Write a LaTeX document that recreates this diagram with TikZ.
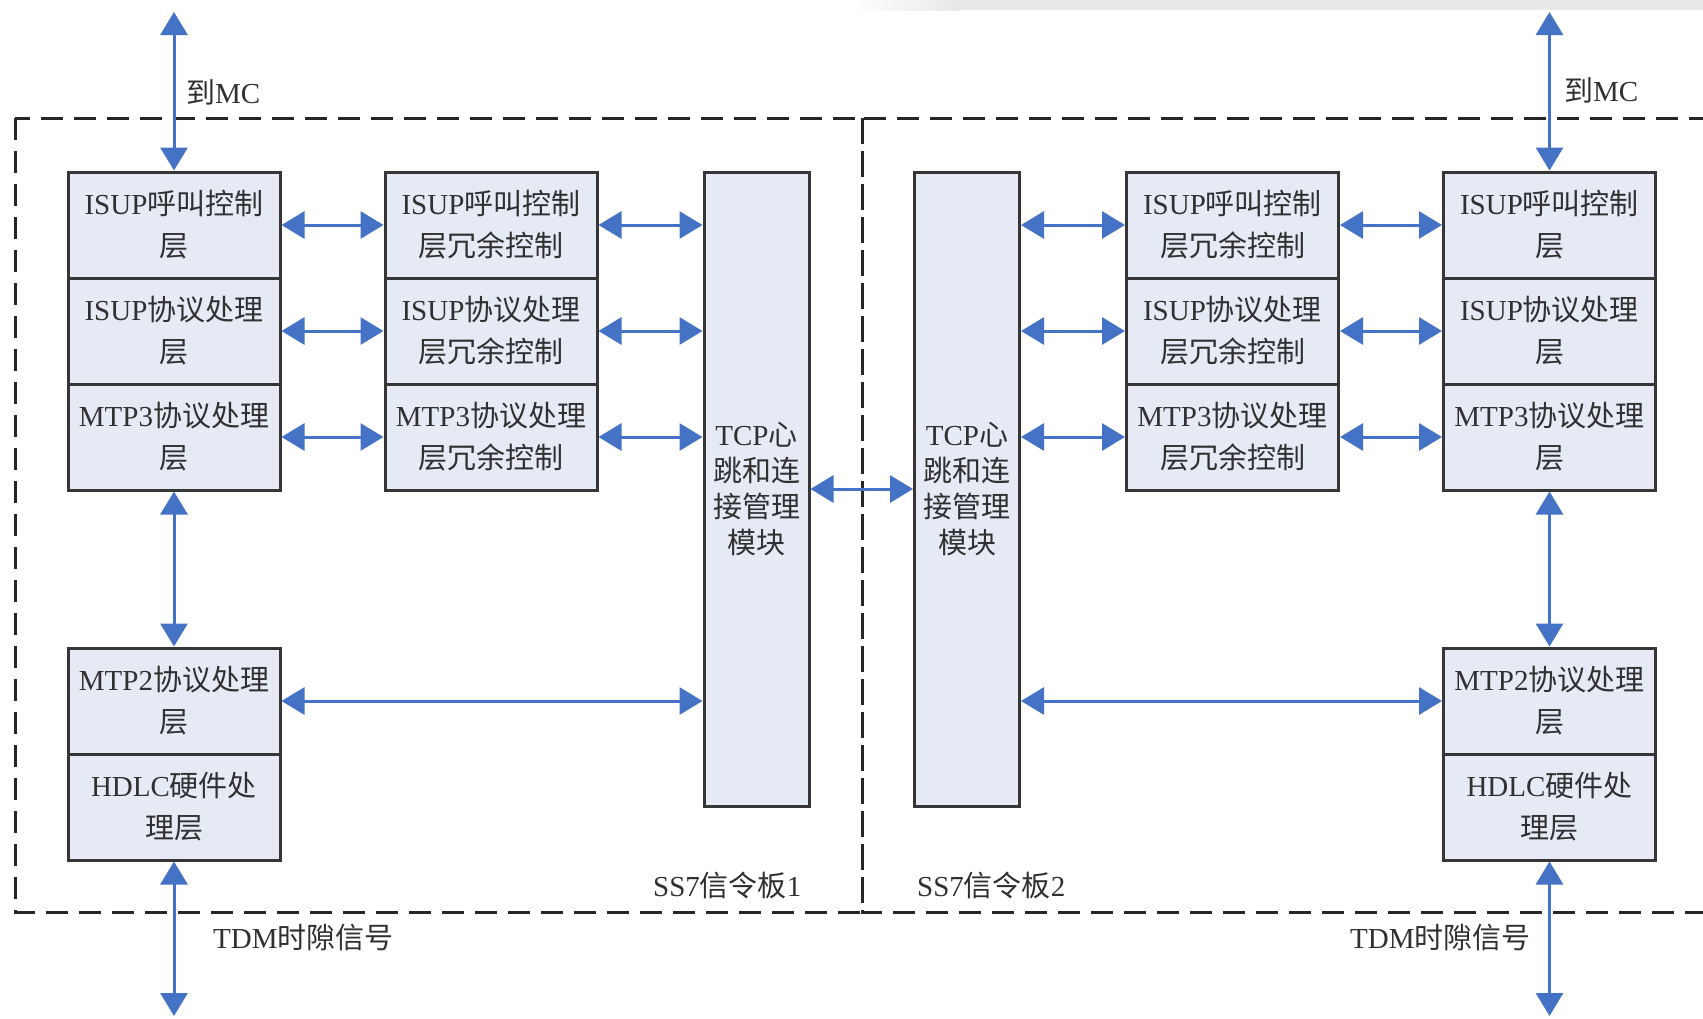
\documentclass[tikz,border=0pt]{standalone}
\usepackage{fontspec}
\setmainfont{Liberation Serif}
\newfontfamily\cjk{Noto Sans CJK SC}
\newcommand\zh[1]{{\cjk #1}}
\usetikzlibrary{arrows.meta,positioning}
\definecolor{boxfill}{HTML}{E6EAF4}
\definecolor{boxline}{HTML}{363636}
\definecolor{arrblue}{HTML}{4472C4}
\definecolor{txt}{HTML}{303030}
\tikzset{
  layerbox/.style={draw=boxline, fill=boxfill, line width=3pt, align=center,
    inner sep=0pt, text=txt, font=\fontsize{29}{42}\selectfont},
  widebox/.style={layerbox, minimum width=212pt, minimum height=106pt},
  tcpbox/.style={layerbox, minimum width=105pt, minimum height=634pt,
    font=\fontsize{29}{36}\selectfont},
  biarrow/.style={draw=arrblue, line width=3pt,
    {Triangle[length=23pt,width=27pt]}-{Triangle[length=23pt,width=27pt]}},
  boardline/.style={draw=black!85, line width=3pt, dash pattern=on 22pt off 11pt},
  lbl/.style={text=txt, font=\fontsize{29}{36}\selectfont, inner sep=0pt}
}
\begin{document}
\begin{tikzpicture}[x=1pt,y=-1pt]
\useasboundingbox (0,0) rectangle (1703,1018);
\fill[white] (0,0) rectangle (1703,1018);
% top grey band
\shade[left color=white, right color=black!9] (850,0) rectangle (960,10);
\fill[black!9] (960,0) rectangle (1703,10);

% board outlines
\begin{scope}
\clip (0,0) rectangle (1703,1018);
\draw[boardline] (15,118) rectangle (862,912);
\draw[boardline] (862,118) rectangle (1730,912);
\end{scope}

% ---------- board 1 ----------
\node[widebox] (L1) at (174,225) {ISUP\zh{呼叫控制}\\\zh{层}};
\node[widebox] (L2) at (174,331) {ISUP\zh{协议处理}\\\zh{层}};
\node[widebox] (L3) at (174,437) {MTP3\zh{协议处理}\\\zh{层}};
\node[widebox] (M1) at (491,225) {ISUP\zh{呼叫控制}\\\zh{层冗余控制}};
\node[widebox] (M2) at (491,331) {ISUP\zh{协议处理}\\\zh{层冗余控制}};
\node[widebox] (M3) at (491,437) {MTP3\zh{协议处理}\\\zh{层冗余控制}};
\node[widebox] (P1) at (174,701) {MTP2\zh{协议处理}\\\zh{层}};
\node[widebox] (H1) at (174,807) {HDLC\zh{硬件处}\\\zh{理层}};
\node[tcpbox] (T1) at (756.5,489) {TCP\zh{心}\\\zh{跳和连}\\\zh{接管理}\\\zh{模块}};

% ---------- board 2 ----------
\node[tcpbox] (T2) at (967,489) {TCP\zh{心}\\\zh{跳和连}\\\zh{接管理}\\\zh{模块}};
\node[widebox] (N1) at (1232.5,225) {ISUP\zh{呼叫控制}\\\zh{层冗余控制}};
\node[widebox] (N2) at (1232.5,331) {ISUP\zh{协议处理}\\\zh{层冗余控制}};
\node[widebox] (N3) at (1232.5,437) {MTP3\zh{协议处理}\\\zh{层冗余控制}};
\node[widebox] (R1) at (1549.5,225) {ISUP\zh{呼叫控制}\\\zh{层}};
\node[widebox] (R2) at (1549.5,331) {ISUP\zh{协议处理}\\\zh{层}};
\node[widebox] (R3) at (1549.5,437) {MTP3\zh{协议处理}\\\zh{层}};
\node[widebox] (Q1) at (1549.5,701) {MTP2\zh{协议处理}\\\zh{层}};
\node[widebox] (G1) at (1549.5,807) {HDLC\zh{硬件处}\\\zh{理层}};

% external end points
\coordinate (mcL) at (174,12);
\coordinate (mcR) at (1549.5,12);
\coordinate (tdmL) at (174,1016);
\coordinate (tdmR) at (1549.5,1016);

% ---------- arrows board 1 ----------
\draw[biarrow] (mcL) -- (L1.north);
\draw[biarrow] (L1.east) -- (M1.west);
\draw[biarrow] (L2.east) -- (M2.west);
\draw[biarrow] (L3.east) -- (M3.west);
\draw[biarrow] (M1.east) -- (M1.east -| T1.west);
\draw[biarrow] (M2.east) -- (M2.east -| T1.west);
\draw[biarrow] (M3.east) -- (M3.east -| T1.west);
\draw[biarrow] (L3.south) -- (P1.north);
\draw[biarrow] (P1.east) -- (P1.east -| T1.west);
\draw[biarrow] (H1.south) -- (tdmL);

% between boards
\draw[biarrow] (T1.east) -- (T2.west);

% ---------- arrows board 2 ----------
\draw[biarrow] (mcR) -- (R1.north);
\draw[biarrow] (N1.east) -- (R1.west);
\draw[biarrow] (N2.east) -- (R2.west);
\draw[biarrow] (N3.east) -- (R3.west);
\draw[biarrow] (N1.west -| T2.east) -- (N1.west);
\draw[biarrow] (N2.west -| T2.east) -- (N2.west);
\draw[biarrow] (N3.west -| T2.east) -- (N3.west);
\draw[biarrow] (R3.south) -- (Q1.north);
\draw[biarrow] (Q1.west -| T2.east) -- (Q1.west);
\draw[biarrow] (G1.south) -- (tdmR);

% ---------- labels ----------
\node[lbl, anchor=west] (mcLt) at (186,92) {\zh{到}MC};
\node[lbl, anchor=west] (mcRt) at (1564,90) {\zh{到}MC};
\node[lbl, anchor=west] (tdmLt) at (213,938) {TDM\zh{时隙信号}};
\node[lbl, anchor=west] (tdmRt) at (1350,938) {TDM\zh{时隙信号}};
\node[lbl, anchor=west] (b1) at (653,885) {SS7\zh{信令板}1};
\node[lbl, anchor=west] (b2) at (917,885) {SS7\zh{信令板}2};
\end{tikzpicture}
\end{document}
